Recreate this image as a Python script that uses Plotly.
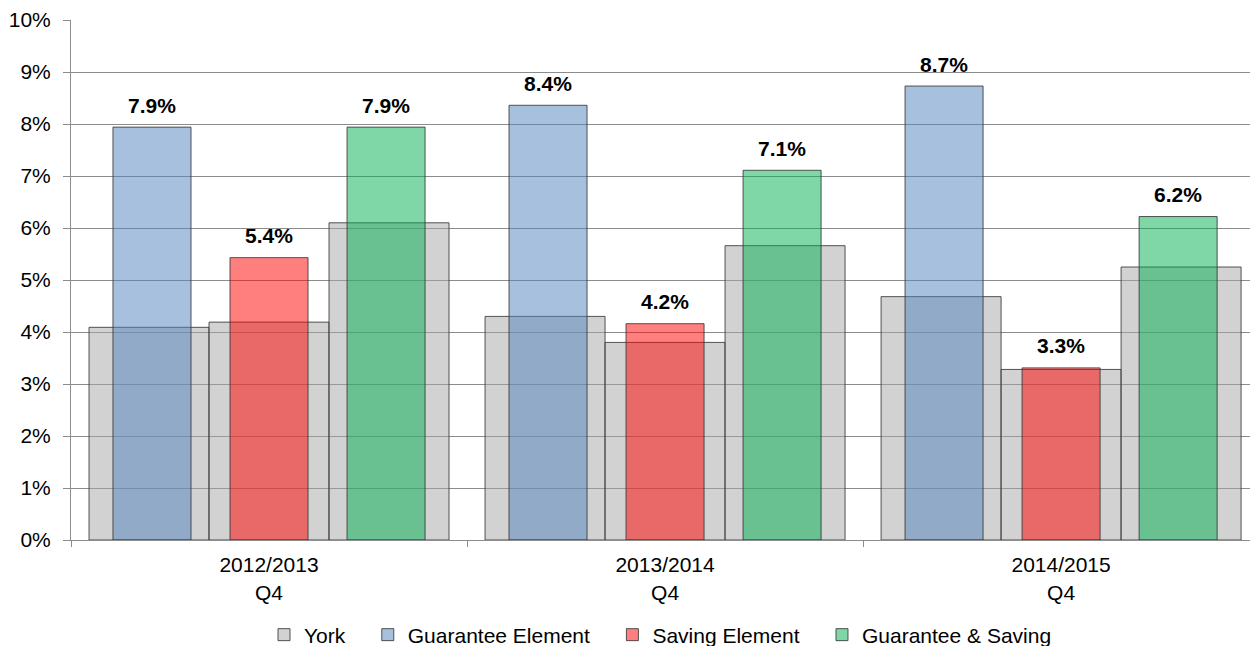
import plotly.graph_objects as go

# ---- data ----
categories = ["2012/2013<br>Q4", "2013/2014<br>Q4", "2014/2015<br>Q4"]
series_names = ["York", "Guarantee Element", "Saving Element", "Guarantee & Saving"]
york_guarantee = [4.09, 4.30, 4.68]
york_saving = [4.19, 3.80, 3.28]
york_both = [6.10, 5.66, 5.25]
guarantee_element = [7.94, 8.36, 8.73]
saving_element = [5.43, 4.16, 3.31]
guarantee_saving = [7.94, 7.11, 6.22]
y_ticks = [0, 1, 2, 3, 4, 5, 6, 7, 8, 9, 10]
y_tick_labels = [f"{t}%" for t in y_ticks]

FONT = "Liberation Sans, Arial, sans-serif"
EDGE = dict(color="rgba(55,55,55,0.85)", width=1)
PAD = "\u00a0\u00a0\u00a0"  # legend spacing

GREY_W = 0.303
COL_W = 0.197
grey_offsets = [-0.4545, -0.1515, 0.1515]
col_offsets = [-0.394, -0.0985, 0.197]

fig = go.Figure()

york_sets = [york_guarantee, york_saving, york_both]
for k, vals in enumerate(york_sets):
    fig.add_trace(go.Bar(
        x=categories, y=vals, name=series_names[0] + PAD, legendgroup="york",
        showlegend=(k == 0), width=GREY_W, offset=grey_offsets[k],
        marker=dict(color="rgba(166,166,166,0.5)", line=EDGE),
    ))

series = [
    (series_names[1] + PAD, guarantee_element, "rgba(79,129,189,0.5)"),
    (series_names[2] + PAD, saving_element, "rgba(255,0,0,0.5)"),
    (series_names[3], guarantee_saving, "rgba(0,176,80,0.5)"),
]
annotations = []
for k, (name, vals, col) in enumerate(series):
    fig.add_trace(go.Bar(
        x=categories, y=vals, name=name, width=COL_W, offset=col_offsets[k],
        marker=dict(color=col, line=EDGE),
    ))
    for i, v in enumerate(vals):
        annotations.append(dict(
            x=i + col_offsets[k] + COL_W / 2, y=v, xref="x", yref="y",
            text=f"{v:.1f}%", showarrow=False, yanchor="middle", yshift=22,
            font=dict(family=FONT, size=21, color="black", weight="bold"),
        ))

fig.update_layout(
    width=1250, height=646,
    margin=dict(l=71, r=0, t=20, b=106, autoexpand=False),
    paper_bgcolor="white", plot_bgcolor="white",
    barmode="overlay", hovermode=False,
    font=dict(family=FONT, size=21, color="black"),
    annotations=annotations,
    legend=dict(
        orientation="h", xref="paper", yref="paper",
        x=0.5, xanchor="center", y=(540 - 635) / 520, yanchor="middle",
        font=dict(family=FONT, size=21, color="black"),
        itemwidth=30, bgcolor="rgba(0,0,0,0)",
    ),
    showlegend=True,
)
fig.update_xaxes(
    range=[-0.5, 2.477], showline=True, linecolor="#8c8c8c", linewidth=1,
    ticks="outside", tickson="boundaries", ticklen=6, tickcolor="#8c8c8c",
    showgrid=False, tickfont=dict(family=FONT, size=21, color="black"),
    ticklabelstandoff=6,
)
fig.update_yaxes(
    range=[0, 10], tickmode="array", tickvals=y_ticks, ticktext=y_tick_labels,
    showline=True, linecolor="#8c8c8c", linewidth=1,
    ticks="outside", ticklen=7, tickcolor="#8c8c8c",
    showgrid=True, gridcolor="#8c8c8c", gridwidth=1, zeroline=False,
    tickfont=dict(family=FONT, size=21, color="black"),
    ticklabelstandoff=8,
)

fig.write_html(
    "out.html",
    config={"displayModeBar": False},
    post_script="document.body.style.margin='0';document.body.style.overflow='hidden';",
)
